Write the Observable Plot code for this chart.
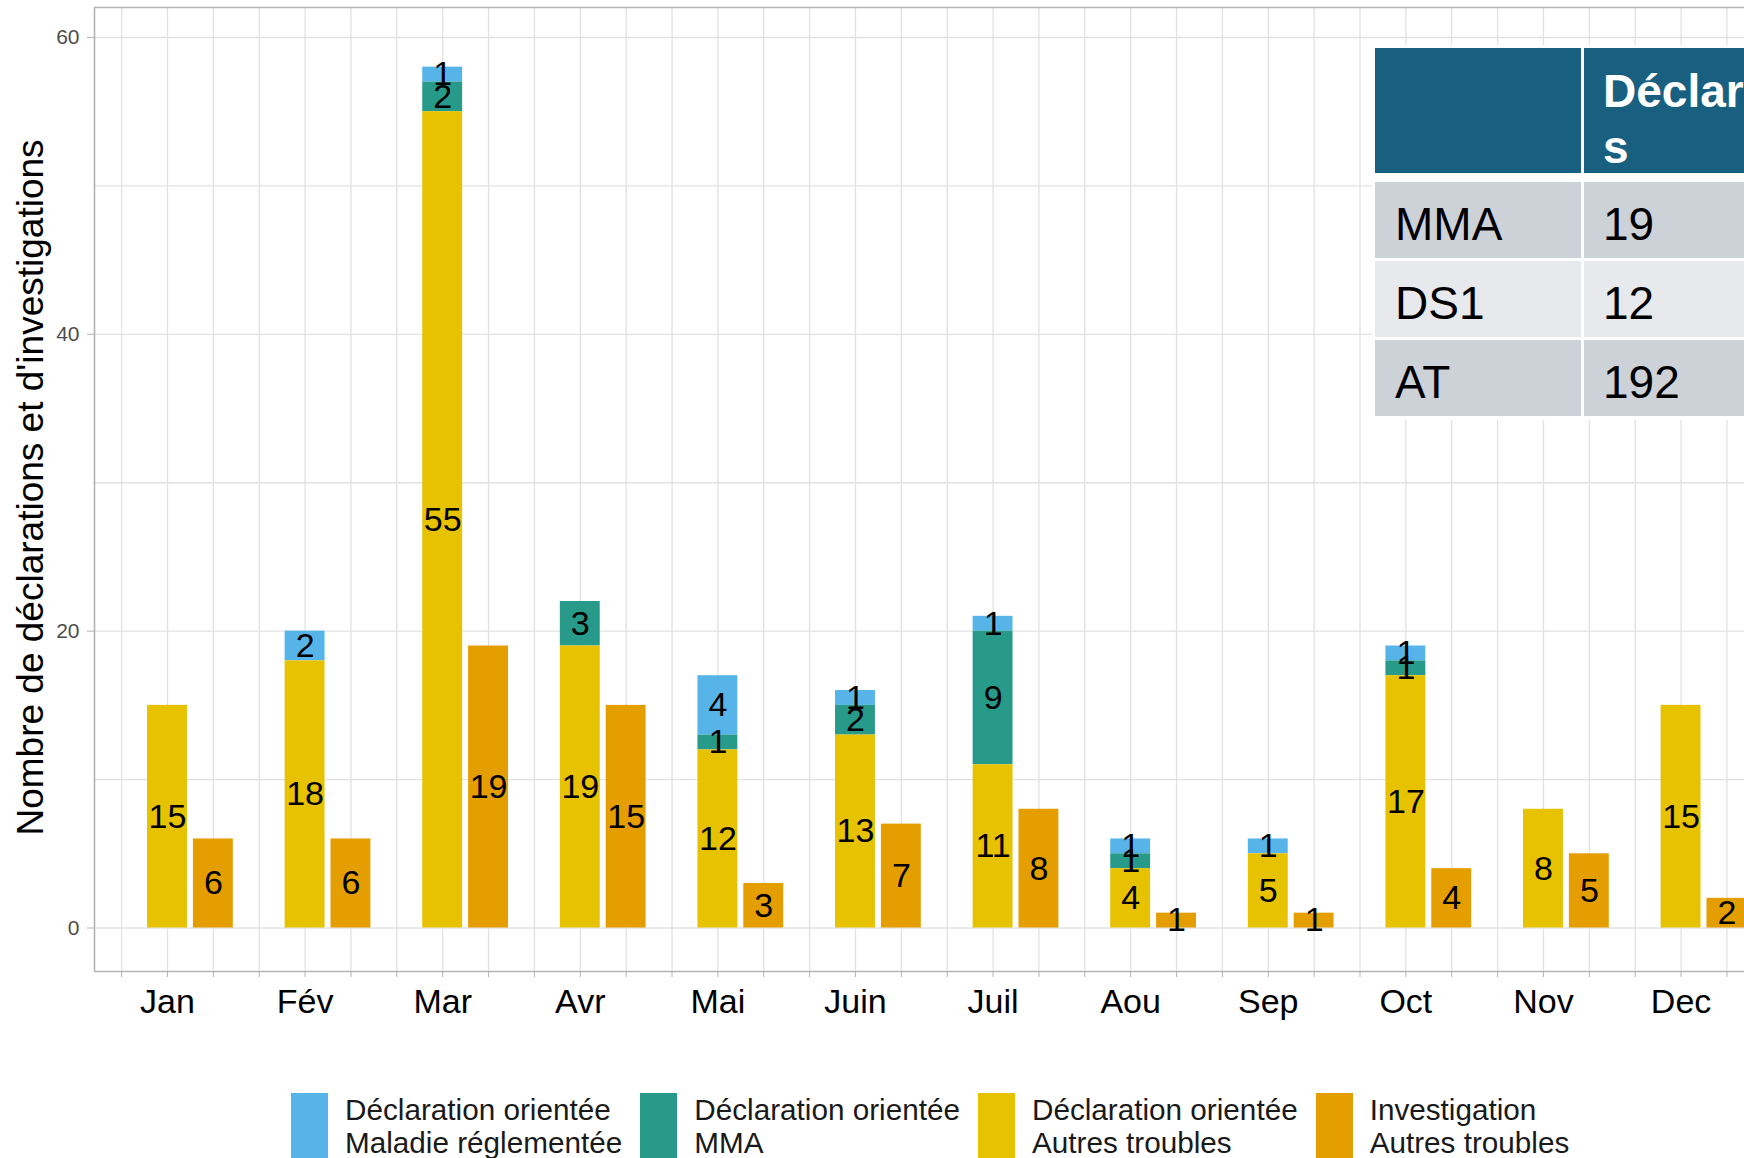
<!DOCTYPE html>
<html><head><meta charset="utf-8">
<script src="https://cdn.jsdelivr.net/npm/d3@7"></script>
<script src="https://cdn.jsdelivr.net/npm/@observablehq/plot@0.6"></script>
<style>
html,body{margin:0;padding:0;background:#fff;overflow:hidden;}
body{width:1744px;height:1158px;position:relative;font-family:"Liberation Sans",Arial,sans-serif;}
#chart{position:absolute;left:0;top:0;}
#legend{position:absolute;left:291px;top:1093px;display:flex;gap:18px;white-space:nowrap;}
.item{display:flex;align-items:flex-start;}
.key{width:37px;height:70px;margin-right:17px;}
.lbl{font-size:29.7px;line-height:33px;color:#1a1a1a;margin-top:0px;}
#table{position:absolute;left:1372px;top:45px;width:420px;height:375px;background:#fff;}
.cell{position:absolute;box-sizing:border-box;}
</style></head><body>
<div id="chart"></div><div id="legend"></div><div id="table"></div>
<script>
// ---- data ----
const months = ["Jan","Fév","Mar","Avr","Mai","Juin","Juil","Aou","Sep","Oct","Nov","Dec"];
const declMaladieReglementee = [0,2,1,0,4,1,1,1,1,1,0,0];
const declMMA = [0,0,2,3,1,2,9,1,0,1,0,0];
const declAutresTroubles = [15,18,55,19,12,13,11,4,5,17,8,15];
const investAutresTroubles = [6,6,19,15,3,7,8,1,1,4,5,2];
const seriesKeys = ["MR","MMA","AT","INV"];
const seriesLabels = [["Déclaration orientée","Maladie réglementée"],["Déclaration orientée","MMA"],["Déclaration orientée","Autres troubles"],["Investigation","Autres troubles"]];
const seriesColors = ["#56B4E9","#279A8A","#E6C200","#E49E00"];
const yTicks = [0,20,40,60];
const yTitle = "Nombre de déclarations et d'investigations";
const tableHeader = ["","Déclarations"];
const tableRowLabels = ["MMA","DS1","AT"];
const tableDeclarations = [19,12,192];

// ---- build table for Plot ----
const seriesValues = [declMaladieReglementee, declMMA, declAutresTroubles, investAutresTroubles];
const seriesSlot = [0,0,0,1];
const rows = [];
months.forEach((m,i) => seriesKeys.forEach((k,s) => {
  const v = seriesValues[s][i];
  if (v > 0) rows.push({month: i+1, slot: seriesSlot[s], key: k, value: v});
}));
const stackOrder = ["AT","MMA","MR","INV"];
const half = 0.145;
const xDom = [0.4695, 12.461];
const yDom = [-2.93, 62.02];
const xTicks = d3.range(2, 38).map(k => k/3);
const isInt = d => Math.abs(d - Math.round(d)) < 1e-9;

const chart = Plot.plot({
  width: 1744, height: 1030,
  marginLeft: 94, marginRight: 0, marginTop: 7, marginBottom: 59,
  style: {fontFamily: '"Liberation Sans", Arial, sans-serif', background: "#fff"},
  x: {domain: xDom, label: null},
  y: {domain: yDom, label: null},
  color: {domain: seriesKeys, range: seriesColors},
  marks: [
    Plot.ruleY(d3.range(0, 61, 10), {stroke: "#E2E2E2", strokeWidth: 1.3}),
    Plot.ruleX(xTicks, {stroke: "#E2E2E2", strokeWidth: 1.3}),
    Plot.rectY(rows, {x1: d => d.month + d.slot/3 - half, x2: d => d.month + d.slot/3 + half, y: "value", fill: "key", order: stackOrder}),
    Plot.text(rows, Plot.stackY({x: d => d.month + d.slot/3, y: "value", z: "key", order: stackOrder, text: d => String(d.value), fontSize: 34, fill: "#000"})),
    Plot.axisX(xTicks, {tickFormat: d => isInt(d) ? months[Math.round(d)-1] : "", tickSize: 6, tickPadding: 11, fontSize: 34, fill: "#000", stroke: "#B3B3B3", label: null}),
    Plot.axisY(yTicks, {tickSize: 7, tickPadding: 8, fontSize: 21, fill: "#4D4D4D", stroke: "#B3B3B3", label: null}),
    Plot.ruleX([xDom[0]], {stroke: "#B3B3B3", strokeWidth: 1.6}),
    Plot.ruleY(yDom, {stroke: "#B3B3B3", strokeWidth: 1.6}),
    Plot.text([yTitle], {frameAnchor: "left", rotate: -90, dx: -52, dy: -2, textAnchor: "middle", lineAnchor: "bottom", fontSize: 37, fill: "#000"})
  ]
});
document.getElementById("chart").appendChild(chart);

// ---- legend ----
const legend = document.getElementById("legend");
seriesKeys.forEach((k, i) => {
  const item = document.createElement("div"); item.className = "item";
  const key = document.createElement("div"); key.className = "key"; key.style.background = seriesColors[i];
  const lbl = document.createElement("div"); lbl.className = "lbl";
  lbl.innerHTML = seriesLabels[i].join("<br>");
  item.appendChild(key); item.appendChild(lbl); legend.appendChild(item);
});

// ---- table overlay ----
const tbl = document.getElementById("table");
function cell(left, top, w, h, bg, html, style) {
  const c = document.createElement("div"); c.className = "cell";
  Object.assign(c.style, {left: left+"px", top: top+"px", width: w+"px", height: h+"px", background: bg}, style || {});
  c.innerHTML = html; tbl.appendChild(c); return c;
}
const col1W = 206, col2L = 212;
cell(3, 3, col1W, 125, "#185F80", tableHeader[0]);
cell(col2L, 3, 400, 125, "#185F80", "", {});
const hdr = document.createElement("div");
Object.assign(hdr.style, {position:"absolute", left:(col2L+19)+"px", top:"18px", width:"262px", color:"#fff", fontWeight:"bold", fontSize:"46px", lineHeight:"56px", wordBreak:"break-all"});
hdr.textContent = tableHeader[1]; tbl.appendChild(hdr);
tableRowLabels.forEach((r, i) => {
  const top = 137 + i*79;
  const bg = i % 2 === 0 ? "#CDD1D8" : "#E8E9EC";
  const st = {fontSize:"46px", lineHeight:"76px", color:"#000", paddingTop:"4px"};
  cell(3, top, col1W, 76, bg, r, Object.assign({paddingLeft:"20px"}, st));
  cell(col2L, top, 400, 76, bg, String(tableDeclarations[i]), Object.assign({paddingLeft:"19px"}, st));
});
</script></body></html>
